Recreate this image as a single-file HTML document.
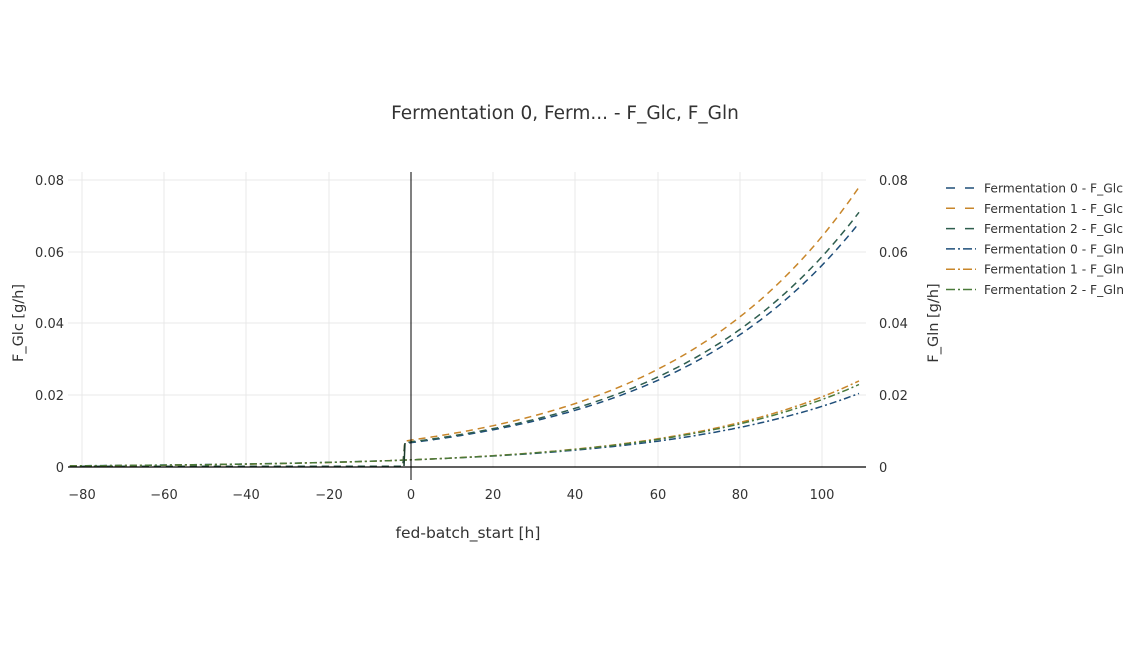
<!DOCTYPE html><html><head><style>body{margin:0;background:#fff}svg{font-family:"DejaVu Sans","Liberation Sans",sans-serif}</style></head><body>
<svg id="s" width="1140" height="641" xmlns="http://www.w3.org/2000/svg">
<rect width="1140" height="641" fill="#fff"/>
<text x="565" y="119" font-size="18.5" text-anchor="middle" fill="#333">Fermentation 0, Ferm... - F_Glc, F_Gln</text>
<g stroke="#e8e8e8" stroke-width="1">
<line x1="82" y1="172" x2="82" y2="467"/><line x1="164" y1="172" x2="164" y2="467"/><line x1="246" y1="172" x2="246" y2="467"/><line x1="329" y1="172" x2="329" y2="467"/><line x1="493" y1="172" x2="493" y2="467"/><line x1="575" y1="172" x2="575" y2="467"/><line x1="658" y1="172" x2="658" y2="467"/><line x1="740" y1="172" x2="740" y2="467"/><line x1="822" y1="172" x2="822" y2="467"/>
<line x1="68" y1="180" x2="866" y2="180"/><line x1="68" y1="252" x2="866" y2="252"/><line x1="68" y1="323" x2="866" y2="323"/><line x1="68" y1="395" x2="866" y2="395"/>
</g>
<g id="series"></g>
<line x1="68" y1="467" x2="866" y2="467" stroke="#000" stroke-width="1.3"/>
<line x1="411" y1="172" x2="411" y2="480" stroke="#000" stroke-width="1"/>
<g font-size="13" fill="#333" text-anchor="middle">
<text x="82" y="499">−80</text><text x="164" y="499">−60</text><text x="246" y="499">−40</text><text x="329" y="499">−20</text><text x="411" y="499">0</text><text x="493" y="499">20</text><text x="575" y="499">40</text><text x="658" y="499">60</text><text x="740" y="499">80</text><text x="822" y="499">100</text>
</g>
<g font-size="13" fill="#333" text-anchor="end">
<text x="64" y="185">0.08</text><text x="64" y="257">0.06</text><text x="64" y="328">0.04</text><text x="64" y="400">0.02</text><text x="64" y="472">0</text>
</g>
<g font-size="13" fill="#333">
<text x="879" y="185">0.08</text><text x="879" y="257">0.06</text><text x="879" y="328">0.04</text><text x="879" y="400">0.02</text><text x="879" y="472">0</text>
</g>
<text x="468" y="538" font-size="15.5" text-anchor="middle" fill="#333">fed-batch_start [h]</text>
<text transform="translate(23,323) rotate(-90)" font-size="14.5" text-anchor="middle" fill="#333">F_Glc [g/h]</text>
<text transform="translate(938,323) rotate(-90)" font-size="14.5" text-anchor="middle" fill="#333">F_Gln [g/h]</text>
<g id="leg" font-size="12.3" fill="#333"></g>
</svg>
<script>
var X=function(v){return 411+v*4.11},Y=function(v){return 467-v*3587.5};
var S=[["#1f4e79",0.0068,0.068,"7,5"],["#c8862a",0.0075,0.078,"7,5"],["#2e5e4e",0.007,0.071,"7,5"],
["#1f4e79",0.002,0.0205,"7,3,2,3"],["#c8862a",0.002,0.024,"7,3,2,3"],["#4a7a3a",0.002,0.023,"7,3,2,3"]];
var g=document.getElementById("series"),L=document.getElementById("leg"),ns="http://www.w3.org/2000/svg";
var names=["Fermentation 0 - F_Glc","Fermentation 1 - F_Glc","Fermentation 2 - F_Glc","Fermentation 0 - F_Gln","Fermentation 1 - F_Gln","Fermentation 2 - F_Gln"];
S.forEach(function(s,i){var r=Math.log(s[2]/s[1])/109,d="";
 if(i<3){d="M"+X(-83)+","+Y(0.0002)+" L"+X(-2)+","+Y(0.0002)+" L"+X(-1.5)+","+Y(s[1]*0.96);
  for(var x=0;x<=109;x+=1)d+=" L"+X(x).toFixed(1)+","+Y(s[1]*Math.exp(r*x)).toFixed(1);}
 else{for(var x=-83;x<=109;x+=1)d+=(x==-83?"M":" L")+X(x).toFixed(1)+","+Y(s[1]*Math.exp(r*x)).toFixed(1);}
 var p=document.createElementNS(ns,"path");p.setAttribute("d",d);p.setAttribute("fill","none");p.setAttribute("stroke",s[0]);p.setAttribute("stroke-width","1.5");p.setAttribute("stroke-dasharray",s[3]);g.appendChild(p);
 var y=188+i*20.3,l=document.createElementNS(ns,"line");l.setAttribute("x1",946);l.setAttribute("x2",976);l.setAttribute("y1",y);l.setAttribute("y2",y);l.setAttribute("stroke",s[0]);l.setAttribute("stroke-width","1.5");l.setAttribute("stroke-dasharray",i<3?"9,10":"9,3,2,3");L.appendChild(l);
 var t=document.createElementNS(ns,"text");t.setAttribute("x",984);t.setAttribute("y",y+4.5);t.textContent=names[i];L.appendChild(t);});
var v=document.createElementNS(ns,"line");v.setAttribute("x1",404);v.setAttribute("x2",405);v.setAttribute("y1",466);v.setAttribute("y2",443);v.setAttribute("stroke","#1a3a2a");v.setAttribute("stroke-width","1.5");g.appendChild(v);
</script>
</body></html>
